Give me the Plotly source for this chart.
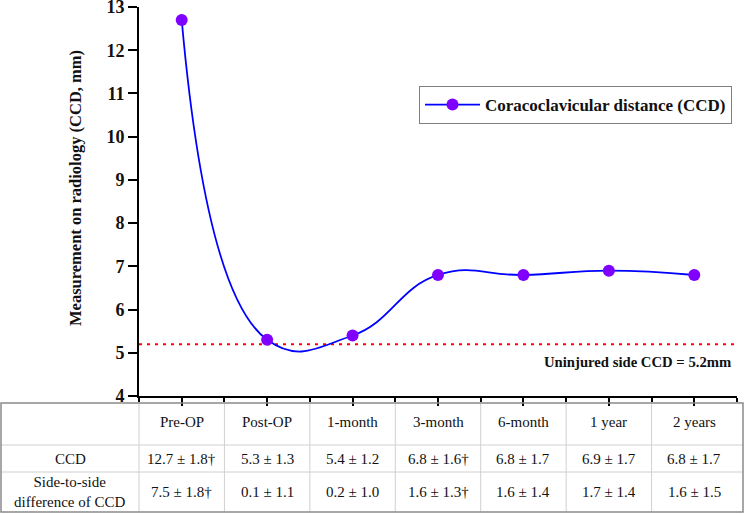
import plotly.graph_objects as go

categories = ["Pre-OP", "Post-OP", "1-month", "3-month", "6-month", "1 year", "2 years"]
ccd_values = [12.7, 5.3, 5.4, 6.8, 6.8, 6.9, 6.8]
uninjured_ccd = 5.2
ccd_text = ["12.7 ± 1.8†", "5.3 ± 1.3", "5.4 ± 1.2", "6.8 ± 1.6†", "6.8 ± 1.7", "6.9 ± 1.7", "6.8 ± 1.7"]
diff_text = ["7.5 ± 1.8†", "0.1 ± 1.1", "0.2 ± 1.0", "1.6 ± 1.3†", "1.6 ± 1.4", "1.7 ± 1.4", "1.6 ± 1.5"]
row_labels = ["CCD", "Side-to-side<br>difference of CCD"]
y_ticks = list(range(4, 14))

W, H = 744, 514
ML, MR, MT, MB = 139, 7, 7, 118
PW = W - ML - MR
PH = H - MT - MB
SERIF = "Liberation Serif"


def px_x(px):
    return (px - ML) / PW


def px_y(py):
    return (H - MB - py) / PH


xs = list(range(len(categories)))

fig = go.Figure()
fig.add_trace(go.Scatter(
    x=xs, y=ccd_values, mode="lines+markers",
    name="Coracoclavicular distance (CCD)",
    line=dict(color="#0000ff", width=1.8, shape="spline", smoothing=1.3),
    marker=dict(color="#8000ff", size=12),
))

shapes = []
shapes.append(dict(type="line", xref="paper", yref="y", x0=0, x1=1,
                   y0=uninjured_ccd, y1=uninjured_ccd,
                   line=dict(color="#ff0000", width=2, dash="3px,5px"), layer="below"))

t_top, t_l1, t_l2, t_bot = 403, 445, 472, 512
t_left, t_right = 1, 743
inner = "#d0d0d0"
outer = "#8a8a8a"
for yy in (t_l1, t_l2):
    shapes.append(dict(type="line", xref="paper", yref="paper",
                       x0=px_x(t_left), x1=px_x(t_right), y0=px_y(yy), y1=px_y(yy),
                       line=dict(color=inner, width=1)))
step = PW / len(categories)
for i in range(len(categories)):
    xx = ML + i * step
    shapes.append(dict(type="line", xref="paper", yref="paper",
                       x0=px_x(xx), x1=px_x(xx), y0=px_y(t_top), y1=px_y(t_bot),
                       line=dict(color=inner, width=1)))
shapes.append(dict(type="rect", xref="paper", yref="paper",
                   x0=px_x(t_left), x1=px_x(t_right), y0=px_y(t_top), y1=px_y(t_bot),
                   line=dict(color=outer, width=1.5)))

annotations = []
hdr_y = px_y((t_top + t_l1) / 2 - 2)
r1_y = px_y((t_l1 + t_l2) / 2)
r2_y = px_y((t_l2 + t_bot) / 2)
tfont = dict(family=SERIF, size=15, color="#111111")
for i, c in enumerate(categories):
    annotations.append(dict(x=i, y=hdr_y, xref="x", yref="paper", text=c,
                            showarrow=False, font=tfont, xanchor="center", yanchor="middle"))
    annotations.append(dict(x=i, y=r1_y, xref="x", yref="paper", text=ccd_text[i],
                            showarrow=False, font=tfont, xanchor="center", yanchor="middle"))
    annotations.append(dict(x=i, y=r2_y, xref="x", yref="paper", text=diff_text[i],
                            showarrow=False, font=tfont, xanchor="center", yanchor="middle"))
lab_x = px_x((t_left + ML) / 2)
for yy, lab in zip((r1_y, r2_y), row_labels):
    annotations.append(dict(x=lab_x, y=yy, xref="paper", yref="paper", text=lab,
                            showarrow=False, font=tfont, xanchor="center", yanchor="middle",
                            align="center"))

annotations.append(dict(x=px_x(733), y=px_y(362), xref="paper", yref="paper",
                        text="Uninjured side CCD = 5.2mm", showarrow=False,
                        xanchor="right", yanchor="middle",
                        font=dict(family=SERIF, size=14.7, color="#111111", weight="bold")))

# y-axis title
annotations.append(dict(x=px_x(75), y=px_y(188), xref="paper", yref="paper",
                        text="Measurement on radiology (CCD, mm)", showarrow=False,
                        textangle=-90, xanchor="center", yanchor="middle",
                        font=dict(family=SERIF, size=16.5, color="#111111", weight="bold")))

fig.update_layout(
    width=W, height=H,
    margin=dict(l=ML, r=MR, t=MT, b=MB),
    paper_bgcolor="white", plot_bgcolor="white",
    showlegend=True,
    legend=dict(x=px_x(419), y=px_y(86), xanchor="left", yanchor="top",
                bordercolor="#808080", borderwidth=1, bgcolor="white",
                font=dict(family=SERIF, size=17, color="#111111", weight="bold"),
                itemwidth=55, tracegroupgap=0),
    xaxis=dict(range=[-0.5, len(categories) - 0.5], tickvals=xs, showticklabels=False,
               ticks="outside", ticklen=8, tickwidth=1.5, tickcolor="black",
               minor=dict(ticks="outside", ticklen=4, tickwidth=1.5, dtick=0.5, tick0=-0.5,
                          tickcolor="black"),
               showline=True, linecolor="black", linewidth=2, showgrid=False,
               zeroline=False, fixedrange=True, automargin=False),
    yaxis=dict(range=[4, 13], tickvals=y_ticks, ticks="outside", ticklen=9, tickwidth=1.5,
               tickcolor="black", showline=True, linecolor="black", linewidth=2,
               showgrid=False, zeroline=False, automargin=False,
               ticklabeloverflow="allow",
               tickfont=dict(family=SERIF, size=18, color="#111111", weight="bold")),
    shapes=shapes,
    annotations=annotations,
)

fig.write_html("out.html")
